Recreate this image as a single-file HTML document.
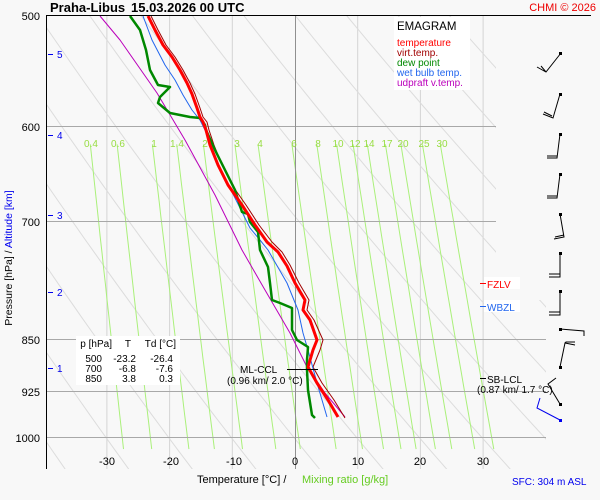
<!DOCTYPE html>
<html><head><meta charset="utf-8"><style>
html,body{margin:0;padding:0;background:#f8f8f8;}
svg{display:block;font-family:"Liberation Sans",sans-serif;}
</style></head><body>
<svg id="s" width="600" height="500" xmlns="http://www.w3.org/2000/svg">
<rect width="600" height="500" fill="#f8f8f8"/>
<defs><clipPath id="c"><polygon points="46,16 496,16 496,300 546,300 546,469 46,469"/></clipPath></defs>
<g id="grid" clip-path="url(#c)"></g>
<g id="mix"></g>
<g stroke="#a8a8a8" stroke-width="1">
<line x1="46" y1="126.5" x2="496" y2="126.5"/>
<line x1="46" y1="221.5" x2="496" y2="221.5"/>
<line x1="46" y1="339.5" x2="546" y2="339.5"/>
<line x1="46" y1="391.5" x2="546" y2="391.5"/>
<line x1="46" y1="437.5" x2="546" y2="437.5"/>
</g>
<line x1="295.5" y1="16" x2="295.5" y2="469" stroke="#909090"/>
<rect x="394" y="17" width="76" height="73" fill="#fff"/>
<text x="397" y="30" font-size="11.5">EMAGRAM</text>
<g font-size="10">
<text x="397" y="46" fill="#ff0000">temperature</text>
<text x="397" y="56" fill="#a00000">virt.temp.</text>
<text x="397" y="66" fill="#008800">dew point</text>
<text x="397" y="76" fill="#2266ee">wet bulb temp.</text>
<text x="397" y="86" fill="#bb00bb">udpraft v.temp.</text>
</g>
<g font-size="10" fill="#99dd44" text-anchor="middle">
<text x="91" y="147">0.4</text><text x="118" y="147">0.6</text><text x="154" y="147">1</text>
<text x="177" y="147">1.4</text><text x="205" y="147">2</text><text x="237" y="147">3</text>
<text x="260" y="147">4</text><text x="294" y="147">6</text><text x="318" y="147">8</text>
<text x="338" y="147">10</text><text x="355" y="147">12</text><text x="369" y="147">14</text>
<text x="387" y="147">17</text><text x="403" y="147">20</text><text x="424" y="147">25</text>
<text x="442" y="147">30</text>
</g>
<rect x="76" y="336" width="104" height="49" fill="#fff"/>
<g font-size="10" text-anchor="end">
<text x="112" y="347">p [hPa]</text><text x="131" y="347">T</text><text x="176" y="347">Td [°C]</text>
<text x="102" y="362">500</text><text x="136" y="362">-23.2</text><text x="173" y="362">-26.4</text>
<text x="102" y="372">700</text><text x="136" y="372">-6.8</text><text x="173" y="372">-7.6</text>
<text x="102" y="382">850</text><text x="136" y="382">3.8</text><text x="173" y="382">0.3</text>
</g>
<g fill="none" stroke-linejoin="round">
<polyline stroke="#bb00bb" stroke-width="1" points="100,16 120,40 127,50 157,93 185,140 215,195 242,250 265,290 290,333 307,367 325,393 345,417"/>
<polyline stroke="#a00000" stroke-width="1" points="151,16 158,30 166,45 175,57 183,70 190,83 195,94 200,108 203,117 207,122 209,130 214,145 222,165 232,185 246,205 259,225 272,242 282,252 290,265 299,283 309,300 307,310 314,320 323,340 320,350 313,367 322,383 334,400 345,418"/>
<polyline stroke="#2266ee" stroke-width="1" points="143,16 152,40 165,65 175,80 183,95 192,110 200,120 205,130 212,148 220,168 230,188 240,208 250,228 260,240 268,250 287,283 298,310 303,333 308,350 317,383 327,417"/>
<polyline stroke="#008800" stroke-width="2.5" points="130,16 140,30 146,50 150,70 158,85 170,87 160,97 158,103 170,113 190,117 200,118 205,125 206,130 215,150 225,170 235,190 242,212 248,214 250,222 258,232 260,250 268,267 270,283 272,300 280,303 292,308 292,330 297,340 308,347 307,360 307,370 308,390 312,415 315,418"/>
<polyline stroke="#ff0000" stroke-width="3" points="148,16 155,30 163,45 172,57 180,70 187,83 192,94 197,108 200,117 203,122 206,130 210,145 218,165 228,185 242,205 255,225 267,242 278,252 287,266 295,283 305,300 303,310 310,320 317,340 313,350 308,367 317,383 328,400 338,417"/>
</g>
<line x1="287" y1="369.5" x2="318" y2="369.5" stroke="#000"/>
<text x="240" y="373" font-size="10">ML-CCL</text>
<text x="227" y="384" font-size="10">(0.96 km/ 2.0 °C)</text>
<rect x="484" y="277" width="36" height="12" fill="#fff"/>
<line x1="480" y1="283.5" x2="486" y2="283.5" stroke="#ff0000"/>
<text x="487" y="288" font-size="10" fill="#ff0000">FZLV</text>
<rect x="484" y="300" width="36" height="12" fill="#fff"/>
<line x1="480" y1="306.5" x2="486" y2="306.5" stroke="#2266ee"/>
<text x="487" y="311" font-size="10" fill="#2266ee">WBZL</text>
<line x1="480" y1="378.5" x2="486" y2="378.5" stroke="#000"/>
<text x="487" y="383" font-size="10">SB-LCL</text>
<text x="477" y="393" font-size="10">(0.87 km/ 1.7 °C)</text>
<g font-size="10" fill="#0000ee" stroke="none">
<text x="57" y="58">5</text><text x="57" y="139">4</text><text x="57" y="219">3</text><text x="57" y="296">2</text><text x="57" y="372">1</text>
</g>
<g stroke="#0000ee"><line x1="48" y1="54.5" x2="53" y2="54.5"/><line x1="48" y1="135.5" x2="53" y2="135.5"/><line x1="48" y1="215.5" x2="53" y2="215.5"/><line x1="48" y1="292.5" x2="53" y2="292.5"/><line x1="48" y1="368.5" x2="53" y2="368.5"/></g>
<line x1="46.5" y1="16" x2="46.5" y2="469" stroke="#000"/>
<line x1="46" y1="15.5" x2="591" y2="15.5" stroke="#000"/>
<g font-size="11" text-anchor="end">
<text x="40" y="20">500</text><text x="40" y="131">600</text><text x="40" y="226">700</text>
<text x="40" y="344">850</text><text x="40" y="396">925</text><text x="40" y="442">1000</text>
</g>
<g font-size="11" text-anchor="middle">
<text x="107" y="465">-30</text><text x="171" y="465">-20</text><text x="234" y="465">-10</text><text x="295" y="465">0</text>
<text x="358" y="465">10</text><text x="420" y="465">20</text><text x="483" y="465">30</text>
</g>
<text x="197" y="483" font-size="11">Temperature [°C]  /</text>
<text x="302" y="483" font-size="11" fill="#66cc22">Mixing ratio [g/kg]</text>
<text x="512" y="485" font-size="10" fill="#0000ee">SFC: 304 m ASL</text>
<text transform="translate(12,258) rotate(-90)" font-size="10.5" text-anchor="middle">Pressure [hPa]  /  <tspan fill="#0000ee">Altitude [km]</tspan></text>
<text x="50" y="12" font-size="13" font-weight="bold">Praha-Libus</text>
<text x="131" y="12" font-size="13" font-weight="bold">15.03.2026 00 UTC</text>
<text x="596" y="11" font-size="11" fill="#ee0000" text-anchor="end">CHMI © 2026</text>
<g stroke="#000" fill="none" stroke-width="1">
<path d="M561,53 L546,72 L537,67 M546,72 L541,66"/>
<path d="M560,94 L553,118 L543,114 M552,116 L544,112"/>
<path d="M560,134 L557,158 L547,158 M557,156 L547,156"/>
<path d="M560,174 L557,198 L547,198 M557,196 L547,196"/>
<path d="M560,214 L564,237 L554,239 M564,235 L555,237"/>
<path d="M560,253 L560,277 L549,277 M560,274 L549,274"/>
<path d="M560,291 L560,315 L549,315 M560,312 L549,312"/>
<path d="M560,329 L584,331 L584,336"/>
<path d="M560,367 L565,343 L575,345 M565,343 L566,342 L575,342"/>
<path d="M560,404 L548,384 L556,378"/>
<path d="M560,420 L537,408 L540,398" stroke="#0000ee"/>
</g>
<g fill="#000"><rect x="559" y="52" width="3" height="3"/><rect x="559" y="93" width="3" height="3"/><rect x="559" y="133" width="3" height="3"/><rect x="559" y="173" width="3" height="3"/><rect x="559" y="213" width="3" height="3"/><rect x="559" y="252" width="3" height="3"/><rect x="559" y="290" width="3" height="3"/><rect x="559" y="328" width="3" height="3"/><rect x="559" y="366" width="3" height="3"/><rect x="559" y="403" width="3" height="3"/><rect x="559" y="419" width="3" height="3" fill="#0000ee"/></g>
</svg>
<script>
(function(){
var ns="http://www.w3.org/2000/svg";
function Y(p){return 16+610*Math.log(p/500);}
function X(t){return 295+t*6.27;}
var g=document.getElementById("grid"),m=document.getElementById("mix");
function line(par,pts,col,w){var e=document.createElementNS(ns,"polyline");e.setAttribute("points",pts.join(" "));e.setAttribute("fill","none");e.setAttribute("stroke",col);e.setAttribute("stroke-width",w);par.appendChild(e);}
[-40,-30,-20,-10,10,20,30].forEach(function(t){line(g,[X(t)+",16",X(t)+",469"],"#d4d4d4",1);});
for(var th=-40;th<=120;th+=10){var pts=[];for(var p=440;p<=1060;p+=20){var T=(th+273.15)*Math.pow(p/1000,0.286)-273.15;pts.push(X(T).toFixed(1)+","+Y(p).toFixed(1));}line(g,pts,"#dcdcdc",1);}
[0.4,0.6,1,1.4,2,3,4,6,8,10,12,14,17,20,25,30].forEach(function(w){var pts=[];for(var p=617;p<=1030;p+=20){var pp=Math.min(p,1030);var e=w*pp/(622+w);var l=Math.log(e/6.112);var T=243.5*l/(17.67-l);pts.push(X(T).toFixed(1)+","+Y(pp).toFixed(1));}line(m,pts,"#aaf07a",1);});
})();
</script>
</body></html>
